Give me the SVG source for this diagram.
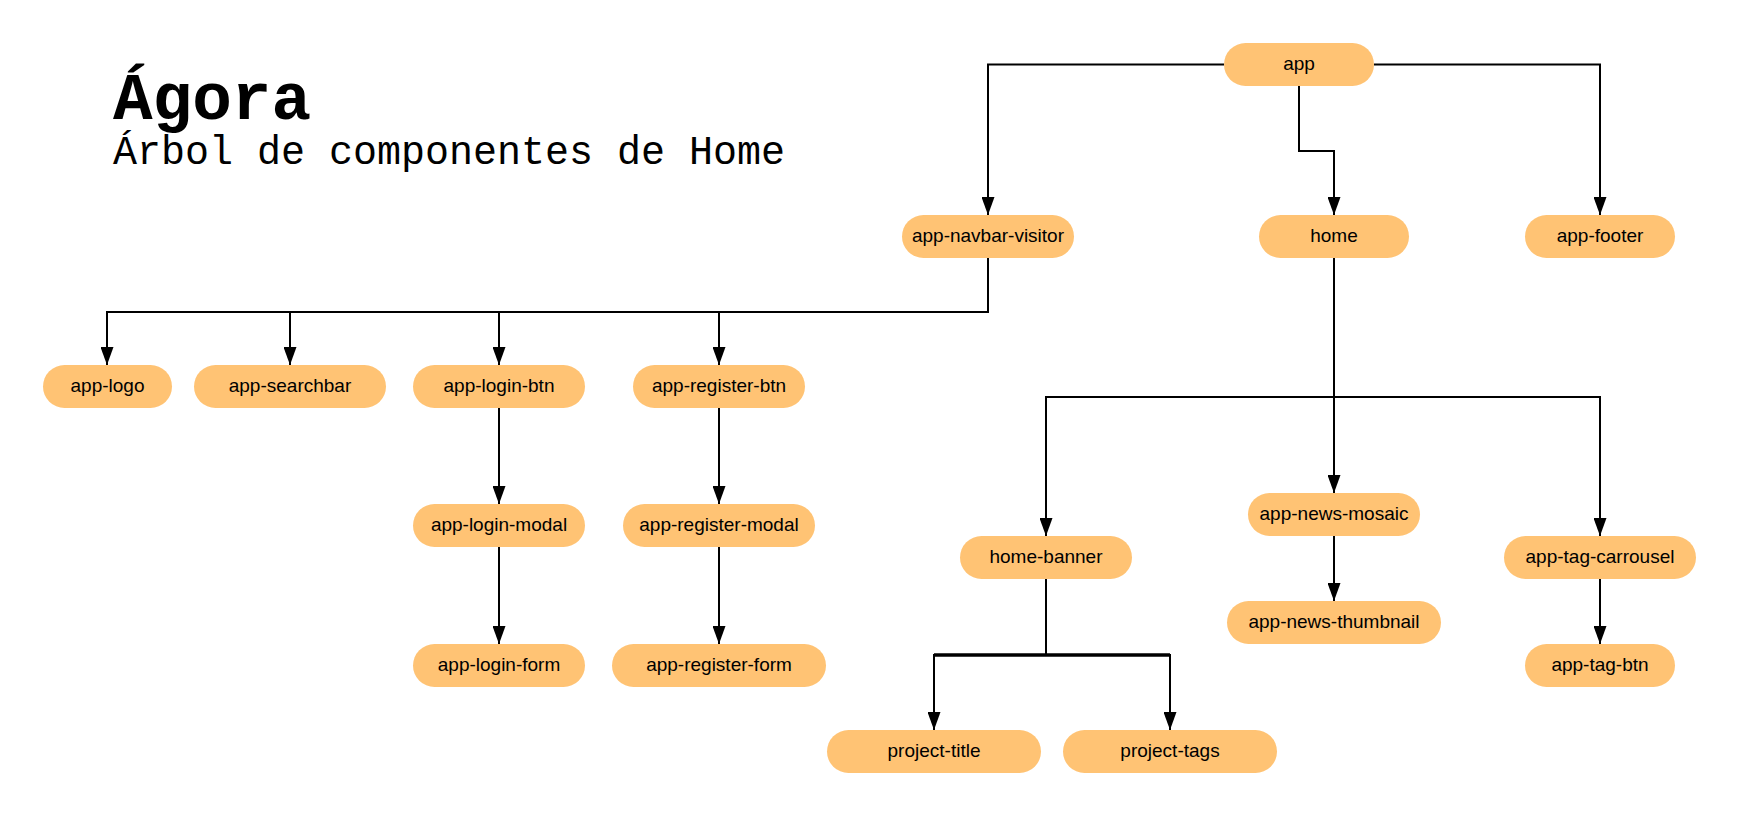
<svg xmlns="http://www.w3.org/2000/svg" width="1740" height="816" viewBox="0 0 1740 816">
<style>
.n rect{fill:#FFC374;}
.n text{font-family:"Liberation Sans",Arial,sans-serif;font-size:19px;fill:#000;text-anchor:middle;}
.c path{fill:none;stroke:#000;stroke-width:2;marker-end:url(#ah);}
.c path.nm{marker-end:none;}
.t{font-family:"Liberation Mono","DejaVu Sans Mono",monospace;fill:#000;}
</style>
<defs>
<marker id="ah" markerUnits="userSpaceOnUse" markerWidth="18" markerHeight="13" refX="18" refY="6.5" orient="auto">
<path d="M0,0 L18,6.5 L0,13 z" fill="#000"/>
</marker>
</defs>
<rect width="1740" height="816" fill="#fff"/>
<text class="t" x="113" y="119" font-size="66" font-weight="bold">Ágora</text>
<text class="t" x="113" y="164" font-size="40">Árbol de componentes de Home</text>
<g class="c" id="connectors">
<path d="M1224,64.5 H988 V215"/>
<path d="M1374,64.5 H1600 V215"/>
<path d="M1299,86 V151 H1334 V215"/>
<path d="M988,258 V312 H107 V365"/>
<path d="M988,258 V312 H290 V365"/>
<path d="M988,258 V312 H499 V365"/>
<path d="M988,258 V312 H719 V365"/>
<path d="M499,408 V504"/>
<path d="M499,547 V644"/>
<path d="M719,408 V504"/>
<path d="M719,547 V644"/>
<path d="M1334,258 V397 H1046 V536"/>
<path d="M1334,258 V493"/>
<path d="M1334,258 V397 H1600 V536"/>
<path d="M1334,536 V601"/>
<path d="M1600,579 V644"/>
<path d="M1046,579 V655 H934 V730"/>
<path d="M1046,579 V655 H1170 V730"/>
<path class="nm" d="M934,655 H1170" style="stroke-width:3.5"/>
</g>
<g class="n" id="app"><rect x="1224" y="43" width="150" height="43" rx="21.5"/><text x="1299" y="70">app</text></g>
<g class="n" id="app-navbar-visitor"><rect x="902" y="215" width="172" height="43" rx="21.5"/><text x="988" y="242">app-navbar-visitor</text></g>
<g class="n" id="home"><rect x="1259" y="215" width="150" height="43" rx="21.5"/><text x="1334" y="242">home</text></g>
<g class="n" id="app-footer"><rect x="1525" y="215" width="150" height="43" rx="21.5"/><text x="1600" y="242">app-footer</text></g>
<g class="n" id="app-logo"><rect x="43" y="365" width="129" height="43" rx="21.5"/><text x="107.5" y="392">app-logo</text></g>
<g class="n" id="app-searchbar"><rect x="194" y="365" width="192" height="43" rx="21.5"/><text x="290" y="392">app-searchbar</text></g>
<g class="n" id="app-login-btn"><rect x="413" y="365" width="172" height="43" rx="21.5"/><text x="499" y="392">app-login-btn</text></g>
<g class="n" id="app-register-btn"><rect x="633" y="365" width="172" height="43" rx="21.5"/><text x="719" y="392">app-register-btn</text></g>
<g class="n" id="app-login-modal"><rect x="413" y="504" width="172" height="43" rx="21.5"/><text x="499" y="531">app-login-modal</text></g>
<g class="n" id="app-register-modal"><rect x="623" y="504" width="192" height="43" rx="21.5"/><text x="719" y="531">app-register-modal</text></g>
<g class="n" id="app-login-form"><rect x="413" y="644" width="172" height="43" rx="21.5"/><text x="499" y="671">app-login-form</text></g>
<g class="n" id="app-register-form"><rect x="612" y="644" width="214" height="43" rx="21.5"/><text x="719" y="671">app-register-form</text></g>
<g class="n" id="home-banner"><rect x="960" y="536" width="172" height="43" rx="21.5"/><text x="1046" y="563">home-banner</text></g>
<g class="n" id="app-news-mosaic"><rect x="1248" y="493" width="172" height="43" rx="21.5"/><text x="1334" y="520">app-news-mosaic</text></g>
<g class="n" id="app-tag-carrousel"><rect x="1504" y="536" width="192" height="43" rx="21.5"/><text x="1600" y="563">app-tag-carrousel</text></g>
<g class="n" id="app-news-thumbnail"><rect x="1227" y="601" width="214" height="43" rx="21.5"/><text x="1334" y="628">app-news-thumbnail</text></g>
<g class="n" id="app-tag-btn"><rect x="1525" y="644" width="150" height="43" rx="21.5"/><text x="1600" y="671">app-tag-btn</text></g>
<g class="n" id="project-title"><rect x="827" y="730" width="214" height="43" rx="21.5"/><text x="934" y="757">project-title</text></g>
<g class="n" id="project-tags"><rect x="1063" y="730" width="214" height="43" rx="21.5"/><text x="1170" y="757">project-tags</text></g>
</svg>
